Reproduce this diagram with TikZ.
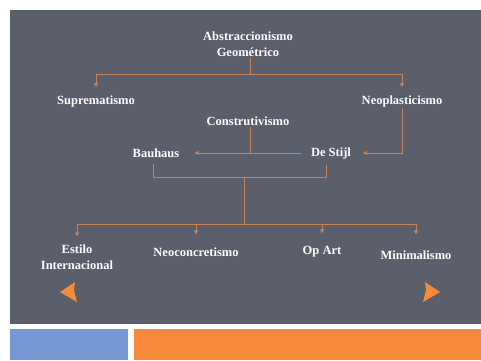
\documentclass[tikz,border=0pt]{standalone}
\usepackage{fontspec}
\setmainfont{Liberation Serif}
\usetikzlibrary{arrows.meta}
\definecolor{panel}{HTML}{5B5F6C}
\definecolor{lineor}{HTML}{C98251}
\definecolor{brightor}{HTML}{F7893A}
\definecolor{blueb}{HTML}{7598D4}
\begin{document}
\begin{tikzpicture}[x=1pt,y=-1pt,
  lbl/.style={text=white,font=\bfseries\fontsize{12.5}{16}\selectfont,align=center,inner sep=1pt},
  ln/.style={draw=lineor,line width=0.9pt},
  arr/.style={ln,-{Triangle[length=4pt,width=4pt]}}]
\useasboundingbox (0,0) rectangle (481,360);
\fill[white] (0,0) rectangle (481,360);
\fill[panel] (10,10) rectangle (481,324);
\fill[blueb] (10,329) rectangle (127.5,360);
\fill[brightor] (133.5,329) rectangle (481,360);
% nodes
\node[lbl] (abs) at (248,44) {Abstraccionismo\\Geométrico};
\node[lbl] (sup) at (96,101) {Suprematismo};
\node[lbl] (neo) at (402,101) {Neoplasticismo};
\node[lbl] (con) at (248,121) {Construtivismo};
\node[lbl] (bau) at (156,153) {Bauhaus};
\node[lbl] (dst) at (331,153) {De Stijl};
\node[lbl] (est) at (77,257) {Estilo\\Internacional};
\node[lbl] (nco) at (196,252) {Neoconcretismo};
\node[lbl] (opa) at (322,252) {Op Art};
\node[lbl] (min) at (416,255) {Minimalismo};
% junctions
\coordinate (j1) at (250,74);
\coordinate (j2) at (250,153);
\coordinate (j3) at (244,177);
\coordinate (j4) at (244,224);
% connectors
\draw[ln] (abs.south -| j1) -- (j1);
\draw[arr,shorten >=7pt] (j1) -| (sup.north);
\draw[arr,shorten >=7pt] (j1) -| (neo.north);
\draw[ln] (con.south -| j2) -- (j2);
\draw[arr,shorten >=14pt] (j2) -- (bau.east);
\draw[ln,shorten >=9pt] (j2) -- (dst.west);
\draw[arr,shorten >=11pt] (neo.south) |- (dst.east);
\draw[ln,shorten <=5pt] ([xshift=-3pt]bau.south) |- (j3);
\draw[ln,shorten >=5pt] (j3) -| ([xshift=-5pt]dst.south);
\draw[ln] (j3) -- (j4);
\draw[arr,shorten >=7pt] (j4) -| (est.north);
\draw[arr,shorten >=12pt] (j4) -| (nco.north);
\draw[arr,shorten >=12pt] (j4) -| (opa.north);
\draw[arr,shorten >=15pt] (j4) -| (min.north);
% navigation arrows
\fill[brightor] (60,292) -- (75,282) -- (74,290) -- (77,302) -- cycle;
\fill[brightor] (440,292) -- (425,282) -- (426,290) -- (423,302) -- cycle;
\end{tikzpicture}
\end{document}
